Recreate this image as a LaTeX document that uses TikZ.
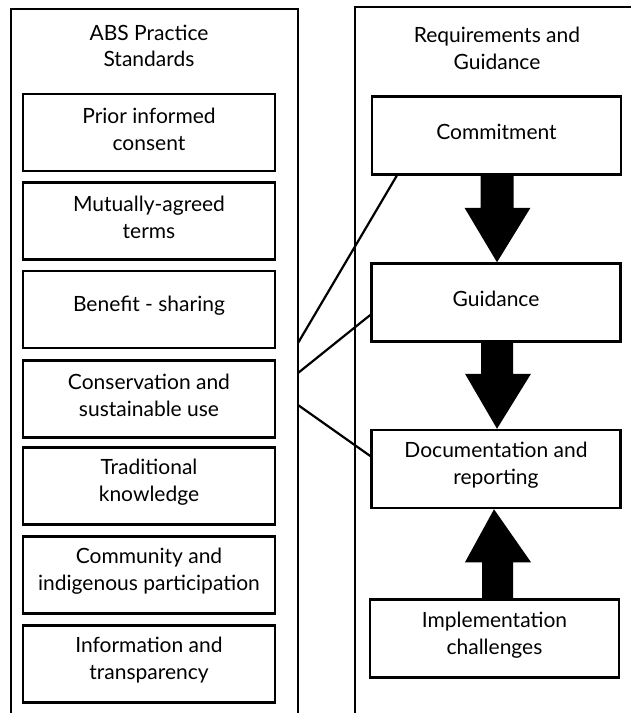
\documentclass[tikz,border=0pt]{standalone}
\usepackage{fontspec}
\setmainfont{Lato}
\usetikzlibrary{calc}
\begin{document}
\begin{tikzpicture}[x=1pt,y=1pt,
  every node/.style={font=\fontsize{21}{26.5}\selectfont, align=center, inner sep=0pt},
  lbl/.style={yshift=3.5pt, font=\fontsize{21}{27}\selectfont, align=center, inner sep=0pt},
  lbox/.style={draw, line width=2.5pt, minimum width=252pt, minimum height=77pt},
  rbox/.style={draw, line width=2.5pt, minimum width=249pt, minimum height=78pt},
  frame/.style={draw, line width=2.2pt},
  link/.style={draw, line width=2.2pt},
  blockarrow/.style={fill=black}
]
\useasboundingbox (0,0) rectangle (631,-713);
\clip (0,0) rectangle (631,-713);
\fill[white] (0,0) rectangle (631,-713);
% containers
\path[frame] (11,-730) -- (11,-9) -- (298,-9) -- (298,-730);
\path[frame] (355,-730) -- (355,-7) -- (650,-7);
% titles
\node (ltitle) at (149,-46) {ABS Practice\\Standards};
\node (rtitle) at (497,-48.5) {Requirements and\\Guidance};
% left boxes
\node[lbox, label={[lbl]center:{Prior informed\\consent}}] (pic) at (149,-132.5) {};
\node[lbox, label={[lbl]center:{Mutually-agreed\\terms}}] (mat) at (149,-221) {};
\node[lbox, label={[lbl]center:{Benefit - sharing}}] (bs) at (149,-309.5) {};
\node[lbox, label={[lbl]center:{Conservation and\\sustainable use}}] (csu) at (149,-399) {};
\node[lbox, label={[lbl]center:{Traditional\\knowledge}}] (tk) at (149,-486) {};
\node[lbox, label={[lbl]center:{Community and\\indigenous participation}}] (cip) at (149,-575) {};
\node[lbox, label={[lbl]center:{Information and\\transparency}}] (it) at (149,-664) {};
% right boxes
\node[rbox, label={[lbl]center:{Commitment}}] (com) at (496.5,-135.5) {};
\node[rbox, label={[lbl]center:{Guidance}}] (guid) at (496,-302.5) {};
\node[rbox, label={[lbl]center:{Documentation and\\reporting}}] (doc) at (496,-469) {};
\node[rbox, label={[lbl]center:{Implementation\\challenges}}] (impl) at (494.5,-638.5) {};
% link origins on the left frame edge
\coordinate (o1) at (298,-343);
\coordinate (o2) at (298,-373);
\coordinate (o3) at (298,-405);
\path[link] (o1) -- ([xshift=26pt]com.south west);
\path[link] (o2) -- ([yshift=-12.5pt]guid.west);
\path[link] (o3) -- ([yshift=13pt]doc.west);
% block arrows
\fill[blockarrow] ($(com.south)+(-16,0)$) -- ($(com.south)+(-16,-32)$) -- ($(com.south)+(-32,-32)$)
  -- ($(guid.north)+(1,0)$) -- ($(com.south)+(34,-32)$) -- ($(com.south)+(17,-32)$) -- ($(com.south)+(17,0)$) -- cycle;
\fill[blockarrow] ($(guid.south)+(-15,0)$) -- ($(guid.south)+(-15,-31)$) -- ($(guid.south)+(-31,-31)$)
  -- ($(doc.north)+(1,0)$) -- ($(guid.south)+(35,-31)$) -- ($(guid.south)+(17,-31)$) -- ($(guid.south)+(17,0)$) -- cycle;
\fill[blockarrow] ($(impl.north)+(-12.5,0)$) -- ($(impl.north)+(-12.5,36)$) -- ($(impl.north)+(-29.5,36)$)
  -- ($(doc.south)+(-2,0)$) -- ($(impl.north)+(36.5,36)$) -- ($(impl.north)+(18.5,36)$) -- ($(impl.north)+(18.5,0)$) -- cycle;
\end{tikzpicture}
\end{document}
